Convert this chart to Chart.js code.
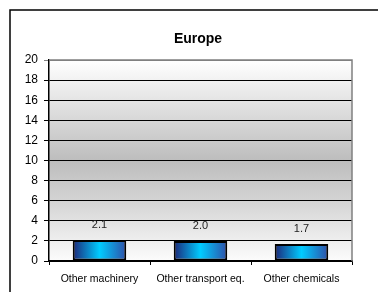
<!DOCTYPE html>
<html lang="en">
<head>
<meta charset="UTF-8" />
<title>Europe</title>
<script src="https://cdn.jsdelivr.net/npm/chart.js"></script>
<style>
  body { margin: 0; background: #fff; }
  canvas { display: block; }
</style>
</head>
<body>
<canvas id="chart" width="378" height="292"></canvas>
<script>
  const categories = ['Other machinery', 'Other transport eq.', 'Other chemicals'];
  const values = [2.1, 2.0, 1.7];
  const yTicks = [0, 2, 4, 6, 8, 10, 12, 14, 16, 18, 20];

  const BAR_PCT = 0.53;

  function barGradient(context) {
    const chart = context.chart;
    const area = chart.chartArea;
    const xs = chart.scales.x;
    if (!area || !xs) return '#00ccff';
    const cx = xs.getPixelForValue(context.dataIndex);
    const half = (area.right - area.left) / categories.length * BAR_PCT / 2;
    const g = chart.ctx.createLinearGradient(cx - half, 0, cx + half, 0);
    g.addColorStop(0, '#1c2678');
    g.addColorStop(0.5, '#00ccff');
    g.addColorStop(1, '#2f4fa8');
    return g;
  }

  const decor = {
    id: 'decor',
    beforeDraw(chart) {
      const { ctx, chartArea: a } = chart;
      const g = ctx.createLinearGradient(0, a.top, 0, a.bottom);
      g.addColorStop(0, '#ffffff');
      g.addColorStop(0.5, '#bdbdbd');
      g.addColorStop(0.7, '#d4d4d4');
      g.addColorStop(1, '#fcfcfc');
      ctx.save();
      ctx.fillStyle = g;
      ctx.fillRect(a.left, a.top, a.right - a.left, a.bottom - a.top);
      ctx.restore();
    },
    afterDraw(chart) {
      const { ctx, chartArea: a } = chart;
      ctx.save();
      // grey right / top border of plot area
      ctx.strokeStyle = '#808080';
      ctx.lineWidth = 1.5;
      ctx.beginPath();
      ctx.moveTo(a.left, a.top);
      ctx.lineTo(a.right, a.top);
      ctx.lineTo(a.right, a.bottom);
      ctx.stroke();

      // outer frame
      ctx.strokeStyle = '#000';
      ctx.lineWidth = 1.5;
      ctx.strokeRect(10, 10, 420, 400);

      // title
      ctx.fillStyle = '#000';
      ctx.font = 'bold 14px "Liberation Sans", Arial, sans-serif';
      ctx.textAlign = 'center';
      ctx.textBaseline = 'alphabetic';
      ctx.fillText('Europe', 198, 43);

      // value labels
      ctx.font = '11px "Liberation Sans", Arial, sans-serif';
      ctx.fillStyle = '#222';
      ctx.textBaseline = 'middle';
      const meta = chart.getDatasetMeta(0);
      meta.data.forEach((bar, i) => {
        ctx.fillText(values[i].toFixed(1), bar.x, bar.y - 15);
      });
      ctx.restore();
    }
  };

  new Chart(document.getElementById('chart'), {
    type: 'bar',
    data: {
      labels: categories,
      datasets: [{
        data: values,
        backgroundColor: barGradient,
        borderColor: '#000',
        borderWidth: 2,
        borderSkipped: false,
        categoryPercentage: 1,
        barPercentage: BAR_PCT
      }]
    },
    options: {
      responsive: false,
      animation: false,
      events: [],
      layout: { padding: { left: 0, right: 26, top: 60, bottom: 0 } },
      plugins: {
        legend: { display: false },
        title: { display: false },
        tooltip: { enabled: false }
      },
      scales: {
        x: {
          afterFit(scale) { scale.height = 31; },
          grid: {
            offset: true,
            drawOnChartArea: false,
            drawTicks: true,
            tickLength: 4,
            color: '#000',
            lineWidth: 1
          },
          border: { display: true, color: '#000', width: 1.5 },
          ticks: {
            color: '#000',
            padding: 8,
            maxRotation: 0,
            font: { family: '"Liberation Sans", Arial, sans-serif', size: 10.5 }
          }
        },
        y: {
          min: 0,
          max: 20,
          afterFit(scale) { scale.width = 49; },
          afterBuildTicks(scale) { scale.ticks = yTicks.map(v => ({ value: v })); },
          grid: {
            color: ctx => (ctx.tick && ctx.tick.value === 20 ? '#808080' : '#000'),
            lineWidth: 1,
            tickLength: 5
          },
          border: { display: true, color: '#000', width: 1.5 },
          ticks: {
            color: '#000',
            padding: 6,
            font: { family: '"Liberation Sans", Arial, sans-serif', size: 12 }
          }
        }
      }
    },
    plugins: [decor]
  });
</script>
</body>
</html>
